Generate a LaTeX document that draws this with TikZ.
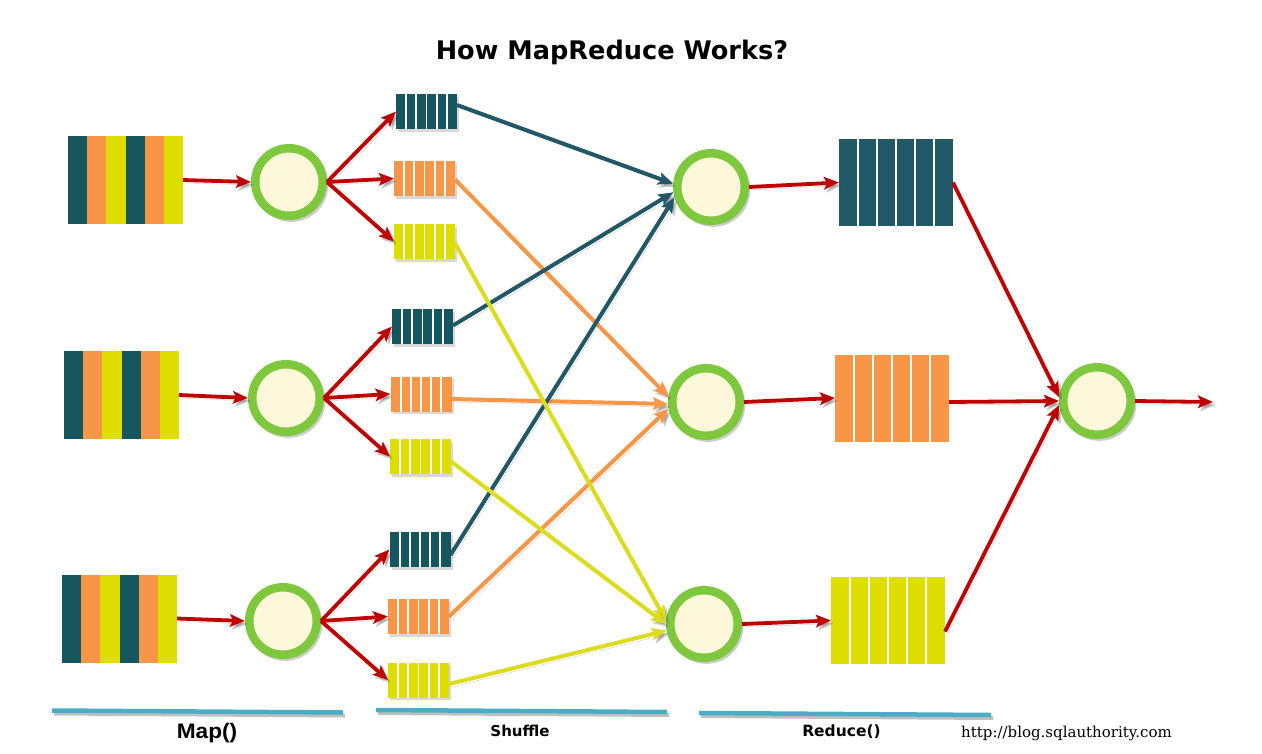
\documentclass[tikz,border=0pt]{standalone}
\usepackage{fontspec}
\usetikzlibrary{arrows.meta,shadows,calc}
\newfontfamily\dvsans{DejaVu Sans}
\newfontfamily\dvserif{DejaVu Serif}
\newfontfamily\libsans{Liberation Sans}
\definecolor{cteal}{HTML}{16565E}
\definecolor{crteal}{HTML}{215868}
\definecolor{corange}{HTML}{F79646}
\definecolor{cyellow}{HTML}{DDDE00}
\definecolor{cyline}{HTML}{DCDC1E}
\definecolor{cgreen}{HTML}{7DC83C}
\definecolor{ccream}{HTML}{FEF8DA}
\definecolor{cred}{HTML}{C00000}
\definecolor{cbar}{HTML}{4BACC6}
\begin{document}
\begin{tikzpicture}[x=1pt,y=-1pt,
  sdw/.style={preaction={draw=black, opacity=0.2, transform canvas={shift={(2.5pt,-3pt)}}}},
  inblock/.style={rectangle, inner sep=0pt, outer sep=0pt, minimum width=115pt, minimum height=88pt,
    path picture={
      \foreach \c [count=\i from 0] in {cteal,corange,cyellow,cteal,corange,cyellow}
        \fill[\c] ([xshift=\i*19.1667pt]path picture bounding box.south west)
          rectangle ([xshift=\i*19.1667pt+19.3pt]path picture bounding box.north west);
    }},
  bucket/.style={rectangle, inner sep=0pt, outer sep=0pt, minimum width=61pt, minimum height=35pt, fill=#1,
    drop shadow={shadow xshift=2pt, shadow yshift=-2.5pt, opacity=0.15, fill=black},
    path picture={
      \foreach \k in {1,...,5}
        \draw[white, line width=1.8pt] ([xshift=\k*10.17pt]path picture bounding box.south west)
          -- ([xshift=\k*10.17pt]path picture bounding box.north west);
    }},
  rblock/.style={rectangle, inner sep=0pt, outer sep=0pt, minimum width=114pt, minimum height=87pt, fill=#1,
    path picture={
      \foreach \k in {1,...,5}
        \draw[white, line width=1.3pt] ([xshift=\k*19pt]path picture bounding box.south west)
          -- ([xshift=\k*19pt]path picture bounding box.north west);
    }},
  proc/.style={circle, draw=cgreen, line width=8.5pt, fill=ccream, minimum size=67.5pt, inner sep=0pt,
    drop shadow={shadow xshift=2pt, shadow yshift=-2.5pt, shadow scale=1.1, opacity=0.2, fill=black}},
  redarr/.style={draw=cred, line width=3.8pt, sdw, -{Stealth[length=15pt,width=12.5pt,inset=3pt]}},
  shuf/.style={draw=#1, line width=4pt, sdw, -{Stealth[length=15pt,width=12.5pt,inset=3pt]}},
  bar/.style={draw=cbar, line width=4.5pt, preaction={draw=black, opacity=0.25, line width=4pt, transform canvas={shift={(2pt,-3pt)}}}},
  lbl/.style={anchor=base, inner sep=0pt}
]
\useasboundingbox (0,0) rectangle (1262,753);

% title
\node[lbl] (title) at (612,59) {\dvsans\bfseries\fontsize{25.6}{30}\selectfont How MapReduce Works?};

% input blocks
\node[inblock] (in1) at (125.5,180) {};
\node[inblock] (in2) at (121.5,395) {};
\node[inblock] (in3) at (119.5,618.5) {};

% map circles
\node[proc] (m1) at (289,182) {};
\node[proc] (m2) at (286,398) {};
\node[proc] (m3) at (283,621) {};

% buckets
\node[bucket=cteal]   (bT1) at (426.5,111.5) {};
\node[bucket=corange] (bO1) at (424.5,178.5) {};
\node[bucket=cyellow] (bY1) at (424.5,241.5) {};
\node[bucket=cteal]   (bT2) at (422.5,326.5) {};
\node[bucket=corange] (bO2) at (421,394) {};
\node[bucket=cyellow] (bY2) at (420.5,456.5) {};
\node[bucket=cteal]   (bT3) at (420,549.5) {};
\node[bucket=corange] (bO3) at (418.5,616.5) {};
\node[bucket=cyellow] (bY3) at (418.5,680) {};

% reduce circles
\node[proc] (rA) at (711,187) {};
\node[proc] (rB) at (706,402) {};
\node[proc] (rC) at (704,624) {};

% reduce blocks
\node[rblock=crteal]  (kT) at (896,182.5) {};
\node[rblock=corange] (kO) at (892,398) {};
\node[rblock=cyellow] (kY) at (888,620.5) {};

% final circle
\node[proc] (fin) at (1097,401) {};
\coordinate (out) at (1213,402);

% input -> map
\draw[redarr] (in1.east) -- (m1.west);
\draw[redarr] (in2.east) -- (m2.west);
\draw[redarr] (in3.east) -- (m3.west);

% map -> buckets
\foreach \m/\j in {m1/1,m2/2,m3/3}{
  \draw[redarr] (\m.east) -- (bT\j.west);
  \draw[redarr] (\m.east) -- (bO\j.west);
  \draw[redarr] (\m.east) -- (bY\j.west);
}

% shuffle
\draw[shuf=corange] ([yshift=-1pt]bO1.east) -- (rB.172);
\draw[shuf=corange] ([yshift=-5pt]bO2.east) -- (rB.183);
\draw[shuf=corange] ([yshift=0pt]bO3.east) -- (rB.190);
\draw[shuf=crteal] ([yshift=6.5pt]bT1.east) -- (rA.175);
\draw[shuf=crteal] ([yshift=1pt]bT2.east) -- (rA.188);
\draw[shuf=crteal] ([yshift=-5.5pt]bT3.east) -- (rA.196);
\draw[shuf=cyline] ([yshift=-1.5pt]bY1.east) -- (rC.175);
\draw[shuf=cyline] ([yshift=-5pt]bY2.east) -- (rC.180);
\draw[shuf=cyline] ([yshift=-4pt]bY3.east) -- (rC.190);

% reduce
\draw[redarr] (rA.east) -- (kT.west);
\draw[redarr] (rB.east) -- (kO.west);
\draw[redarr] (rC.east) -- (kY.west);
\draw[redarr] (kT.east) -- (fin.174);
\draw[redarr] ([yshift=-4pt]kO.east) -- (fin.west);
\draw[redarr] ([yshift=-11pt]kY.east) -- (fin.186);
\draw[redarr] (fin.east) -- (out);

% bottom bars
\coordinate (mapL) at (52,710.5);   \coordinate (mapR) at (343,712.5);
\coordinate (shfL) at (376,710);    \coordinate (shfR) at (667,712);
\coordinate (redL) at (699,713);    \coordinate (redR) at (991,715);
\draw[bar] (mapL) -- (mapR);
\draw[bar] (shfL) -- (shfR);
\draw[bar] (redL) -- (redR);

% labels
\node[lbl, xscale=1.08] (lmap) at (207,738) {\libsans\bfseries\fontsize{21}{25}\selectfont Map()};
\node[lbl] (lshuf) at (520,736) {\dvsans\bfseries\fontsize{15}{18}\selectfont Shuffle};
\node[lbl] (lred) at (841.5,736) {\dvsans\bfseries\fontsize{15.5}{18}\selectfont Reduce()};
\node[lbl] (lurl) at (1066.5,737) {\dvserif\fontsize{15}{18}\selectfont http://blog.sqlauthority.com};
\end{tikzpicture}
\end{document}
